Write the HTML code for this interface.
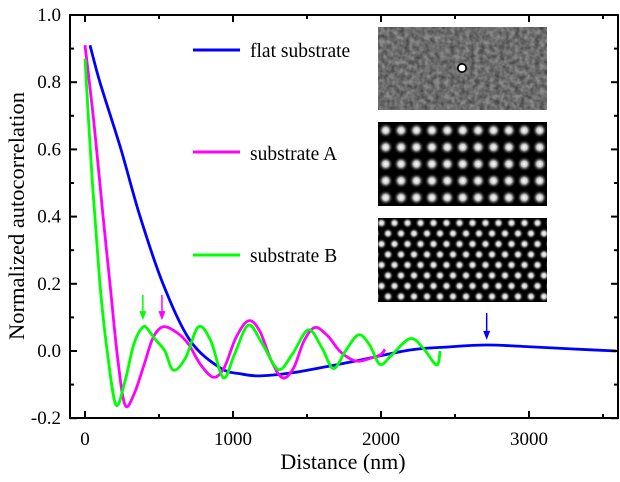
<!DOCTYPE html>
<html><head><meta charset="utf-8"><style>
body{margin:0;background:#fff}
svg text{font-family:"Liberation Serif",serif}
</style></head><body>
<svg id="chart" width="620" height="477" viewBox="0 0 620 477">
<defs>
<filter id="noise" x="0" y="0" width="100%" height="100%">
<feTurbulence type="fractalNoise" baseFrequency="0.2" numOctaves="2" seed="3"/>
<feColorMatrix type="matrix" values="0 0 0 0 0.25 0 0 0 0 0.25 0 0 0 0 0.25 1.8 0 0 0 -0.35"/>
</filter>
<radialGradient id="blob"><stop offset="0" stop-color="#fff"/><stop offset="0.4" stop-color="#ccc"/><stop offset="1" stop-color="#000" stop-opacity="0"/></radialGradient>
<pattern id="sq" x="378" y="122" width="15.4" height="16.8" patternUnits="userSpaceOnUse">
<rect width="15.4" height="16.8" fill="#000"/><circle cx="7.7" cy="8.4" r="7.5" fill="url(#blob)"/></pattern>
<pattern id="hex" x="378" y="218" width="13" height="21" patternUnits="userSpaceOnUse">
<rect width="13" height="21" fill="#000"/><circle cx="3.5" cy="5" r="5.5" fill="url(#blob)"/><circle cx="10" cy="15.5" r="5.5" fill="url(#blob)"/><circle cx="-3" cy="15.5" r="5.5" fill="url(#blob)"/><circle cx="16.5" cy="5" r="5.5" fill="url(#blob)"/></pattern>
</defs>
<g id="plot"></g>
<g>
<line x1="193" y1="50" x2="240" y2="50" stroke="#0000ff" stroke-width="3"/>
<text x="250" y="57" font-size="19.5">flat substrate</text>
<line x1="193" y1="152" x2="240" y2="152" stroke="#ff00ff" stroke-width="3"/>
<text x="250" y="160" font-size="19.5">substrate A</text>
<line x1="193" y1="255" x2="240" y2="255" stroke="#00ff00" stroke-width="3"/>
<text x="250" y="262" font-size="19.5">substrate B</text>
</g>
<g>
<rect x="378" y="27" width="169" height="83" fill="#4a4a4a"/>
<rect x="378" y="27" width="169" height="83" filter="url(#noise)" fill="#fff"/>
<circle cx="462" cy="68" r="5" fill="#000"/><circle cx="462" cy="68" r="3.3" fill="#fff"/>
<rect x="378" y="122" width="169" height="84" fill="url(#sq)"/>
<rect x="378" y="218" width="169" height="84" fill="url(#hex)"/>
</g>
</svg>
<script>
const xTicks=[0,1000,2000,3000];
const yTicks=[-0.2,0.0,0.2,0.4,0.6,0.8,1.0];
const yTickLabels=["-0.2","0.0","0.2","0.4","0.6","0.8","1.0"];
const flatX=[34,101,243,372,527,709,912,1050,1182,1400,1650,1858,2196,2450,2714,2984,3300,3590];
const flatY=[0.91,0.8,0.6,0.4,0.2,0.032,-0.05,-0.068,-0.074,-0.065,-0.045,-0.027,0.003,0.012,0.018,0.013,0.006,0.0];
const aX=[0,60,122,169,220,270,330,400,460,529,620,700,780,867,940,1020,1104,1180,1260,1336,1410,1480,1554,1640,1720,1800,1858,1940,2000,2027];
const aY=[0.91,0.68,0.4,0.2,-0.02,-0.16,-0.13,-0.04,0.04,0.072,0.055,0.02,-0.04,-0.078,-0.05,0.04,0.09,0.06,-0.03,-0.08,-0.05,0.03,0.07,0.045,0.0,-0.025,-0.03,-0.02,-0.01,0.005];
const bX=[0,50,101,150,209,270,330,394,440,480,540,597,680,766,850,935,1010,1104,1200,1306,1400,1509,1600,1678,1760,1847,1920,1993,2072,2196,2286,2376,2399];
const bY=[0.87,0.5,0.2,0.0,-0.16,-0.09,0.02,0.072,0.055,0.032,0.0,-0.057,-0.02,0.072,0.03,-0.08,-0.01,0.077,0.02,-0.055,-0.01,0.063,0.01,-0.052,0.0,0.048,0.02,-0.04,-0.012,0.037,0.008,-0.042,0.0];
const arrowsX=[391,520,2714];
const arrowsTop=[0.167,0.167,0.113];
const arrowsBot=[0.092,0.092,0.033];
const arrowColors=["#00ff00","#ff00ff","#0000ff"];
const X0=85,KX=0.148,Y0=351,KY=336;
const sx=v=>X0+v*KX, sy=v=>Y0-v*KY;
const L=70,R=618,T=15,B=418;
const NS="http://www.w3.org/2000/svg";
const g=document.getElementById('plot');
function mk(tag,attrs){const e=document.createElementNS(NS,tag);for(const k in attrs)e.setAttribute(k,attrs[k]);g.appendChild(e);return e;}
function smooth(xs,ys){
 const P=xs.map((x,i)=>[sx(x),sy(ys[i])]);
 let d=`M${P[0][0].toFixed(1)},${P[0][1].toFixed(1)}`;
 for(let i=0;i<P.length-1;i++){
  const p0=P[Math.max(0,i-1)],p1=P[i],p2=P[i+1],p3=P[Math.min(P.length-1,i+2)];
  const c1=[p1[0]+(p2[0]-p0[0])/6,p1[1]+(p2[1]-p0[1])/6];
  const c2=[p2[0]-(p3[0]-p1[0])/6,p2[1]-(p3[1]-p1[1])/6];
  d+=` C${c1[0].toFixed(1)},${c1[1].toFixed(1)} ${c2[0].toFixed(1)},${c2[1].toFixed(1)} ${p2[0].toFixed(1)},${p2[1].toFixed(1)}`;
 }
 return d;
}
[[flatX,flatY,"#0000ff","series-flat-substrate"],[aX,aY,"#ff00ff","series-substrate-a"],[bX,bY,"#00ff00","series-substrate-b"]].forEach(([xs,ys,c,n])=>{
 const p=mk('path',{d:smooth(xs,ys),fill:'none',stroke:c,'stroke-width':2.8,'stroke-linejoin':'round'});
 
 
});
arrowsX.forEach((x,i)=>{
 const X=sx(x),y1=sy(arrowsTop[i]),y2=sy(arrowsBot[i]);
 const l=mk('line',{x1:X,y1:y1,x2:X,y2:y2-5,stroke:arrowColors[i],'stroke-width':1.5});
 
 
 const h=mk('polygon',{points:`${X-3.5},${y2-9} ${X+3.5},${y2-9} ${X},${y2}`,fill:arrowColors[i]});
 
 
});
const f=mk('rect',{x:L,y:T,width:R-L,height:B-T,fill:'none',stroke:'#000','stroke-width':2});


for(let v=0;v<=3500;v+=500){const X=sx(v),len=v%1000===0?7:4;
 const t=mk('line',{x1:X,y1:B,x2:X,y2:B-len,stroke:'#000','stroke-width':2});
 
 
 mk('line',{x1:X,y1:T,x2:X,y2:T+len,stroke:'#000','stroke-width':2});
}
xTicks.forEach(v=>{const t=mk('text',{x:sx(v),y:445,'font-size':19,'text-anchor':'middle'});t.textContent=v;
 
 
});
for(let k=-2;k<=10;k++){const v=k/10,Y=sy(v),len=k%2===0?7:4;
 const t=mk('line',{x1:L,y1:Y,x2:L+len,y2:Y,stroke:'#000','stroke-width':2});
 
 
 mk('line',{x1:R,y1:Y,x2:R-len,y2:Y,stroke:'#000','stroke-width':2});
}
yTicks.forEach((v,i)=>{const t=mk('text',{x:61,y:sy(v)+6,'font-size':19,'text-anchor':'end'});t.textContent=yTickLabels[i];
 
 
});
const xt=mk('text',{x:343,y:469,'font-size':22,'text-anchor':'middle'});xt.textContent='Distance (nm)';


const yt=mk('text',{x:0,y:0,'font-size':22.5,'text-anchor':'middle',transform:'translate(24,216) rotate(-90)'});yt.textContent='Normalized autocorrelation';


</script>
</body></html>
